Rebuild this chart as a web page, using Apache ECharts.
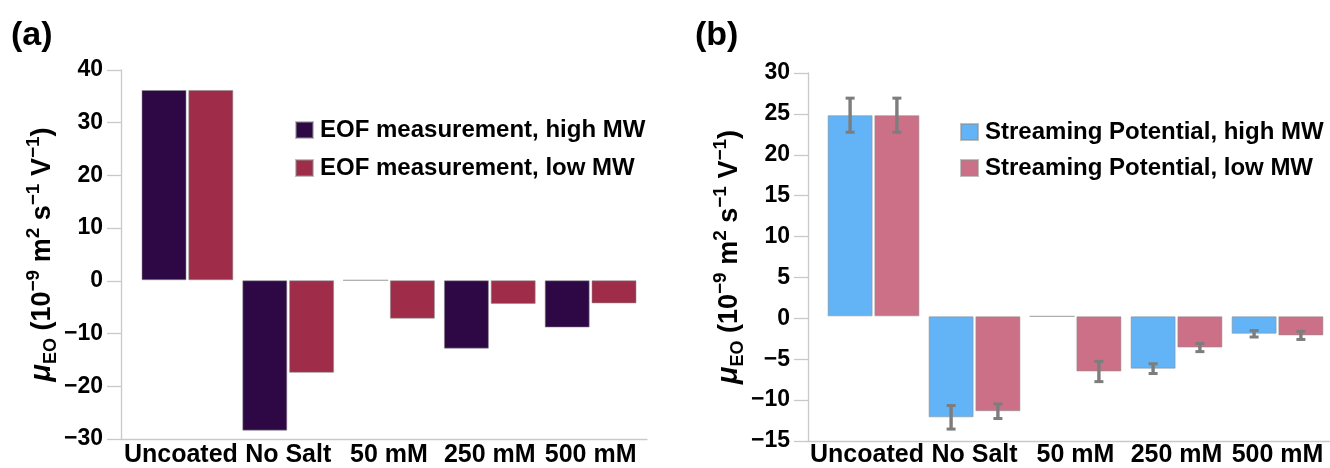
<!DOCTYPE html>
<html>
<head>
<meta charset="utf-8">
<script src="https://cdn.jsdelivr.net/npm/echarts@6/dist/echarts.min.js"></script>
<style>
html,body{margin:0;padding:0;background:#fff;}
#c{width:1330px;height:468px;}
</style>
</head>
<body>
<div id="c"></div>
<script>
// ---- data ----
const categories = ['Uncoated', 'No Salt', '50 mM', '250 mM', '500 mM'];
const eofHighMW = [36.2, -28.6, 0, -13.0, -9.0];
const eofLowMW = [36.2, -17.6, -7.3, -4.5, -4.4];
const spHighMW = [24.8, -12.45, 0, -6.45, -2.15];
const spHighErr = [2.1, 1.45, 0, 0.6, 0.4];
const spLowMW = [24.8, -11.7, -6.8, -3.85, -2.35];
const spLowErr = [2.1, 0.9, 1.25, 0.5, 0.5];
const legendA = ['EOF measurement, high MW', 'EOF measurement, low MW'];
const legendB = ['Streaming Potential, high MW', 'Streaming Potential, low MW'];

const FONT = '"Liberation Sans", Arial, sans-serif';
const BAR_W = 45;
const GAP = 0.04;
const AXIS_COLOR = '#c9c9c9';

const chart = echarts.init(document.getElementById('c'), null, {renderer: 'canvas'});

function yName() {
  return '{mu|μ}{sub|EO}{t| (10}{sup|−9}{t| m}{sup|2}{t| s}{sup|−1}{t| V}{sup|−1}{t|)}';
}
const nameRich = {
  t: {fontFamily: FONT, fontWeight: 'bold', fontSize: 27, color: '#000', lineHeight: 32, verticalAlign: 'bottom'},
  mu: {fontFamily: FONT, fontWeight: 'bold', fontStyle: 'italic', fontSize: 29, color: '#000', lineHeight: 32, verticalAlign: 'bottom'},
  sup: {fontFamily: FONT, fontWeight: 'bold', fontSize: 19, color: '#000', lineHeight: 19, verticalAlign: 'top'},
  sub: {fontFamily: FONT, fontWeight: 'bold', fontSize: 18, color: '#000', lineHeight: 18, verticalAlign: 'bottom', padding: [0, 0, -4, 0]}
};

function visibleY(gridIndex, min, max, interval) {
  return {
    type: 'value', gridIndex, min, max, interval,
    name: yName(), nameLocation: 'middle', nameGap: 58, nameRotate: 90,
    nameTextStyle: {rich: nameRich},
    axisLine: {show: true, lineStyle: {color: AXIS_COLOR, width: 1.3}},
    axisTick: {show: true, length: 14, inside: false, lineStyle: {color: AXIS_COLOR, width: 1.3}},
    splitLine: {show: false},
    axisLabel: {
      margin: 18, color: '#000', fontFamily: FONT, fontWeight: 'bold', fontSize: 23,
      formatter: v => (v < 0 ? '−' + Math.abs(v) : String(v))
    }
  };
}
function hiddenY(gridIndex, min, max, interval) {
  return {type: 'value', gridIndex, min, max, interval, show: false, splitLine: {show: false}};
}
function lineX(gridIndex) {
  return {
    type: 'category', gridIndex, data: [''],
    axisLine: {show: true, onZero: false, lineStyle: {color: AXIS_COLOR, width: 1.3}},
    axisTick: {show: false}, axisLabel: {show: false}
  };
}
const xLabelStyle = {fontFamily: FONT, fontWeight: 'bold', fontSize: 25, color: '#000'};
function labelX(gridIndex) {
  return {
    type: 'category', gridIndex, data: categories,
    axisLine: {show: false, onZero: false}, axisTick: {show: false},
    axisLabel: {
      margin: 5, color: '#000', fontFamily: FONT, fontWeight: 'bold', fontSize: 25, interval: 0,
      formatter: (v, i) => (i === 0 ? '{first|' + v + '}' : '{n|' + v + '}'),
      rich: {
        first: Object.assign({padding: [0, 13, 0, 0]}, xLabelStyle),
        n: Object.assign({}, xLabelStyle)
      }
    }
  };
}

function barSeries(name, data, color, axisIdx) {
  return {
    name, type: 'bar', data, xAxisIndex: axisIdx, yAxisIndex: axisIdx,
    barWidth: BAR_W, barGap: (GAP * 100) + '%',
    itemStyle: {color, borderColor: 'rgba(140,140,140,0.55)', borderWidth: 1},
    emphasis: {disabled: true}, animation: false
  };
}

function errSeries(values, errs, dir, axisIdx) {
  return {
    type: 'custom', xAxisIndex: axisIdx, yAxisIndex: axisIdx, animation: false, silent: true, z: 5,
    data: values.map((v, i) => [i, v, errs[i]]),
    renderItem: function (params, api) {
      const idx = api.value(0), v = api.value(1), e = api.value(2);
      if (!e) return null;
      const shift = dir * (BAR_W + BAR_W * GAP) / 2;
      const x = api.coord([idx, v])[0] + shift;
      const yTop = api.coord([idx, v + e])[1];
      const yBot = api.coord([idx, v - e])[1];
      const st = {stroke: '#7d7d7d', lineWidth: 3.4};
      const cap = 4.5;
      return {
        type: 'group', children: [
          {type: 'line', shape: {x1: x, y1: yTop, x2: x, y2: yBot}, style: st},
          {type: 'line', shape: {x1: x - cap, y1: yTop, x2: x + cap, y2: yTop}, style: {stroke: '#7d7d7d', lineWidth: 3}},
          {type: 'line', shape: {x1: x - cap, y1: yBot, x2: x + cap, y2: yBot}, style: {stroke: '#7d7d7d', lineWidth: 3}}
        ]
      };
    }
  };
}

const legendText = {fontFamily: FONT, fontWeight: 'bold', fontSize: 24, color: '#000', padding: [0, 0, 0, 2]};

const option = {
  backgroundColor: '#fff',
  animation: false,
  title: [
    {text: '(a)', left: 6, top: 14, textStyle: {fontFamily: FONT, fontWeight: 'bold', fontSize: 34, color: '#000'}},
    {text: '(b)', left: 690, top: 14, textStyle: {fontFamily: FONT, fontWeight: 'bold', fontSize: 34, color: '#000'}}
  ],
  legend: [
    {data: legendA, orient: 'vertical', left: 295, top: 118, padding: 0, itemWidth: 17, itemHeight: 16, itemGap: 14,
     icon: 'rect', textStyle: legendText, selectedMode: false},
    {data: legendB, orient: 'vertical', left: 960, top: 120, padding: 0, itemWidth: 17, itemHeight: 16, itemGap: 12,
     icon: 'rect', textStyle: legendText, selectedMode: false}
  ],
  grid: [
    {left: 121, right: 683, top: 70, bottom: 29},
    {left: 137, right: 689, top: 70, bottom: 29},
    {left: 808, right: 0, top: 73, bottom: 27},
    {left: 823, right: 2, top: 73, bottom: 27}
  ],
  xAxis: [lineX(0), labelX(1), lineX(2), labelX(3)],
  yAxis: [
    visibleY(0, -30, 40, 10), hiddenY(1, -30, 40, 10),
    visibleY(2, -15, 30, 5), hiddenY(3, -15, 30, 5)
  ],
  series: [
    barSeries(legendA[0], eofHighMW, '#2d0845', 1),
    barSeries(legendA[1], eofLowMW, '#9f2c48', 1),
    barSeries(legendB[0], spHighMW, '#62b4f7', 3),
    barSeries(legendB[1], spLowMW, '#cc7087', 3),
    errSeries(spHighMW, spHighErr, -1, 3),
    errSeries(spLowMW, spLowErr, 1, 3)
  ]
};
chart.setOption(option);
</script>
</body>
</html>
